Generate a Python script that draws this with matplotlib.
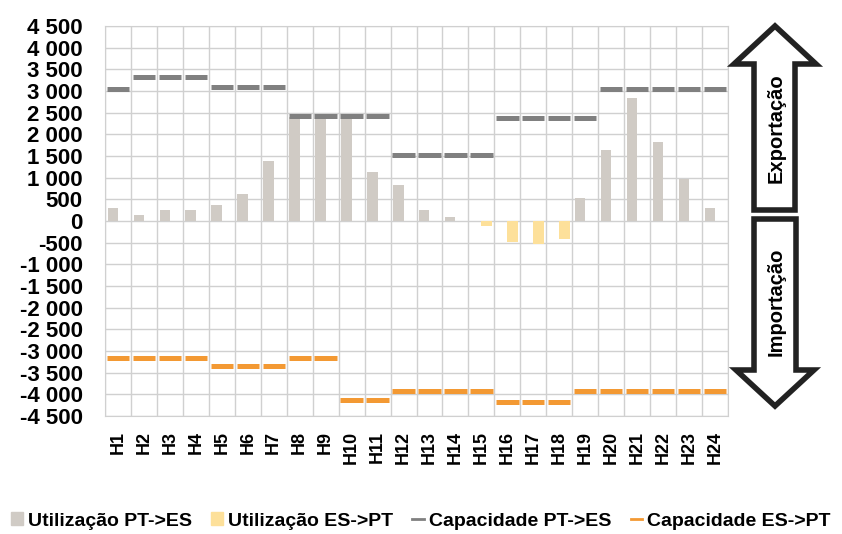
import matplotlib
matplotlib.use("Agg")
import matplotlib.pyplot as plt
import matplotlib.patches as patches
from matplotlib.lines import Line2D
import numpy as np

plt.rcParams["font.family"] = ["Liberation Sans", "DejaVu Sans"]
plt.rcParams["font.weight"] = "bold"

# Data (MW)
hours = ["H%d" % i for i in range(1, 25)]
util_pt_es = [310, 150, 250, 260, 375, 630, 1380, 2400, 2400, 2400, 1120, 830,
              260, 100, 0, 0, 0, 0, 530, 1630, 2840, 1820, 970, 300]
util_es_pt = [0, 0, 0, 0, 0, 0, 0, 0, 0, 0, 0, 0,
              0, 0, -110, -480, -540, -410, 0, 0, 0, 0, 0, 0]
cap_pt_es = [3040, 3320, 3320, 3320, 3090, 3090, 3090, 2420, 2420, 2420, 2420, 1520,
             1520, 1520, 1520, 2370, 2370, 2370, 2370, 3040, 3040, 3040, 3040, 3040]
cap_es_pt = [-3150, -3150, -3150, -3150, -3350, -3350, -3350, -3150, -3150, -4140, -4140, -3930,
             -3930, -3930, -3930, -4180, -4180, -4180, -3930, -3930, -3930, -3930, -3930, -3930]
y_ticks = list(range(-4500, 4501, 500))

c_util_pt = "#d0cbc5"
c_util_es = "#fde09a"
c_cap_pt = "#808080"
c_cap_es = "#f39933"
grid_c = "#d0d0d0"

W, H = 842, 534
fig = plt.figure(figsize=(W / 100, H / 100), dpi=100)
ax = fig.add_axes([105 / W, 1 - 416 / H, (728 - 105) / W, (416 - 26) / H])

x = np.arange(len(hours))
ax.bar(x - 0.2, util_pt_es, width=0.4, color=c_util_pt, zorder=3)
ax.bar(x + 0.2, util_es_pt, width=0.4, color=c_util_es, zorder=3)
ax.hlines(cap_pt_es, x - 0.43, x + 0.43, colors=c_cap_pt, linewidth=3.6, zorder=4)
ax.hlines(cap_es_pt, x - 0.43, x + 0.43, colors=c_cap_es, linewidth=3.6, zorder=4)

ax.set_xlim(-0.5, len(hours) - 0.5)
ax.set_ylim(-4500, 4500)
ax.set_yticks(y_ticks)
ax.set_yticklabels([("%d" % v if abs(v) < 1000 else
                     ("-" if v < 0 else "") + "%d %03d" % (abs(v) // 1000, abs(v) % 1000))
                    for v in y_ticks], fontsize=16, fontweight="bold")
ax.set_xticks(x)
ax.set_xticklabels(hours, rotation=90, fontsize=13, fontweight="bold")
ax.tick_params(length=0)
ax.tick_params(axis="x", pad=11)
ax.tick_params(axis="y", pad=16)

# grid: horizontal at ticks, vertical between categories
for v in y_ticks:
    ax.axhline(v, color=grid_c, lw=1, zorder=1)
for b in np.arange(-0.5, len(hours), 1):
    ax.axvline(b, color=grid_c, lw=1, zorder=1)
for s in ax.spines.values():
    s.set_color(grid_c)

# legend
handles = [
    patches.Patch(color=c_util_pt, label="Utilização PT->ES"),
    patches.Patch(color=c_util_es, label="Utilização ES->PT"),
    Line2D([0], [0], color=c_cap_pt, lw=2, label="Capacidade PT->ES"),
    Line2D([0], [0], color=c_cap_es, lw=2, label="Capacidade ES->PT"),
]
fig.legend(handles=handles, loc="center", bbox_to_anchor=(0.5, 1 - 521 / H), ncol=4,
           frameon=False, prop={"size": 14, "weight": "bold"},
           handlelength=0.6, handleheight=0.6, handletextpad=0.25, columnspacing=1.0)

# block arrows on the right (figure pixel coords)
def fx(px):
    return px / W

def fy(py):
    return 1 - py / H

up = [(754, 210), (754, 64), (734, 64), (775, 26), (816, 64), (795, 64), (795, 210)]
down = [(754, 219), (754, 370), (736, 370), (775, 406), (814, 370), (796, 370), (796, 219)]
for pts in (up, down):
    poly = patches.Polygon([(fx(a), fy(b)) for a, b in pts], closed=True,
                           transform=fig.transFigure, facecolor="white",
                           edgecolor="#222222", linewidth=4, joinstyle="miter")
    fig.patches.append(poly)

fig.text(fx(776), fy(128), "Exportação", rotation=90, ha="center", va="center",
         fontsize=14.5, fontweight="bold")
fig.text(fx(776), fy(302), "Importação", rotation=90, ha="center", va="center",
         fontsize=14.5, fontweight="bold")

fig.savefig("out.png", dpi=100)
